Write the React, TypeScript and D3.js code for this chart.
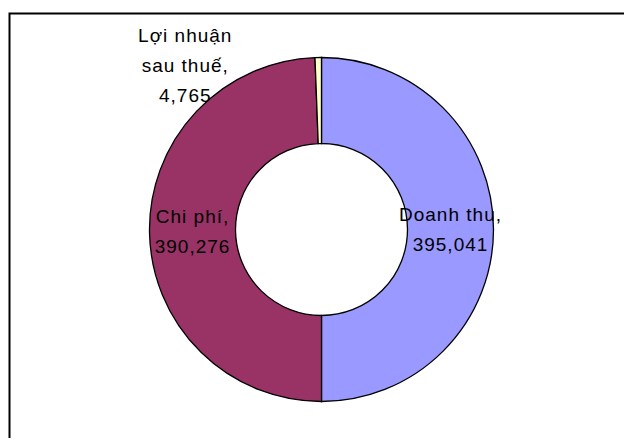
import * as d3 from "d3";
import React from "react";

const width = 624;
const height = 438;

const categories = ["Doanh thu", "Chi phí", "Lợi nhuận sau thuế"];
const values = [395041, 390276, 4765];
const colors = ["#9999FF", "#993366", "#FFFFCC"];

const cx = 321.5;
const cy = 229.5;
const outerR = 172;
const innerR = 86;
const fontSize = 19;
const lineH = 30;

const fmt = d3.format(",");

export default function App() {
  const pie = d3
    .pie<number>()
    .sort(null)
    .value((d) => d);
  const arcs = pie(values);
  const arc = d3
    .arc<d3.PieArcDatum<number>>()
    .innerRadius(innerR)
    .outerRadius(outerR);

  // label lines for each slice
  const labelLines = (i: number) => {
    if (i === 2) return ["Lợi nhuận", "sau thuế,", fmt(values[i])];
    return [categories[i] + ",", fmt(values[i])];
  };

  // the thin slice gets its label outside, up and to the left
  const labelPos = (i: number): [number, number] => {
    if (i === 2) {
      const a = (arcs[i].startAngle + arcs[i].endAngle) / 2;
      return [Math.sin(a) * outerR - 133, -Math.cos(a) * outerR + 8];
    }
    return arc.centroid(arcs[i]) as [number, number];
  };

  return (
    <svg
      width={width}
      height={height}
      style={{ position: "absolute", left: 0, top: 0, background: "#fff" }}
      fontFamily="'Liberation Sans', Arial, sans-serif"
    >
      <rect x={0} y={0} width={width} height={height} fill="#fff" />
      <rect
        x={9.5}
        y={13.5}
        width={width + 50}
        height={height + 50}
        fill="none"
        stroke="#000"
        strokeWidth={2}
      />
      <g transform={`translate(${cx},${cy})`}>
        {arcs.map((a, i) => (
          <path
            key={categories[i]}
            d={arc(a) || ""}
            fill={colors[i]}
            stroke="#000"
            strokeWidth={1.3}
          />
        ))}
        {arcs.map((a, i) => {
          const [x, y] = labelPos(i);
          const lines = labelLines(i);
          const y0 = y - ((lines.length - 1) * lineH) / 2 + 6.5;
          return (
            <text
              key={"l" + i}
              textAnchor="middle"
              fontSize={fontSize}
              letterSpacing={1}
              fill="#000"
            >
              {lines.map((t, j) => (
                <tspan key={j} x={x} y={y0 + j * lineH}>
                  {t}
                </tspan>
              ))}
            </text>
          );
        })}
      </g>
    </svg>
  );
}
